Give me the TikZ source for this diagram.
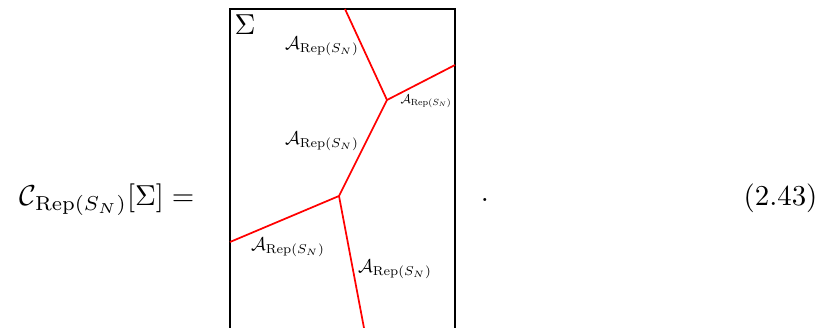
\documentclass[tikz,border=0pt]{standalone}
\usepackage{amsmath,amssymb}
\usetikzlibrary{positioning}
\newcommand{\Arep}{\mathcal{A}_{\mathrm{Rep}(S_N)}}

\begin{document}
\begin{tikzpicture}[x=0.01217cm, y=-0.01217cm,
  wall/.style={red, line width=0.6pt},
  lab/.style={inner sep=0pt, scale=0.64, transform shape}]
  \useasboundingbox (0,0) rectangle (820,328);
  % surface with open bottom edge
  \draw[line width=0.6pt] (230,328) -- (230,9) -- (455,9) -- (455,328);
  \node (sig) at (245,25) {$\Sigma$};
  % junctions and ends on the boundary
  \coordinate (up) at (387,100);
  \coordinate (lo) at (339,196);
  \coordinate (eT) at (345,9);
  \coordinate (eR) at (455,65);
  \coordinate (eL) at (230,242);
  \coordinate (eB) at (364,328);
  \draw[wall] (eT) -- (up);
  \draw[wall] (up) -- (eR);
  \draw[wall] (up) -- (lo);
  \draw[wall] (lo) -- (eL);
  \draw[wall] (lo) -- (eB);
  % regions
  \node[lab] (a1) at (322,46) {$\Arep$};
  \node[lab, scale=0.69] (a2) at (426,101) {$\Arep$};
  \node[lab] (a3) at (322,141) {$\Arep$};
  \node[lab] (a4) at (288,247) {$\Arep$};
  \node[lab] (a5) at (395,269) {$\Arep$};
  % equation
  \node[anchor=east, inner sep=0pt] (lhs) at (195,200) {$\mathcal{C}_{\mathrm{Rep}(S_N)}[\Sigma] =$};
  \node (dot) at (485,200) {$.$};
  \node[anchor=east, inner sep=0pt] (num) at (818,198) {(2.43)};
\end{tikzpicture}
\end{document}
